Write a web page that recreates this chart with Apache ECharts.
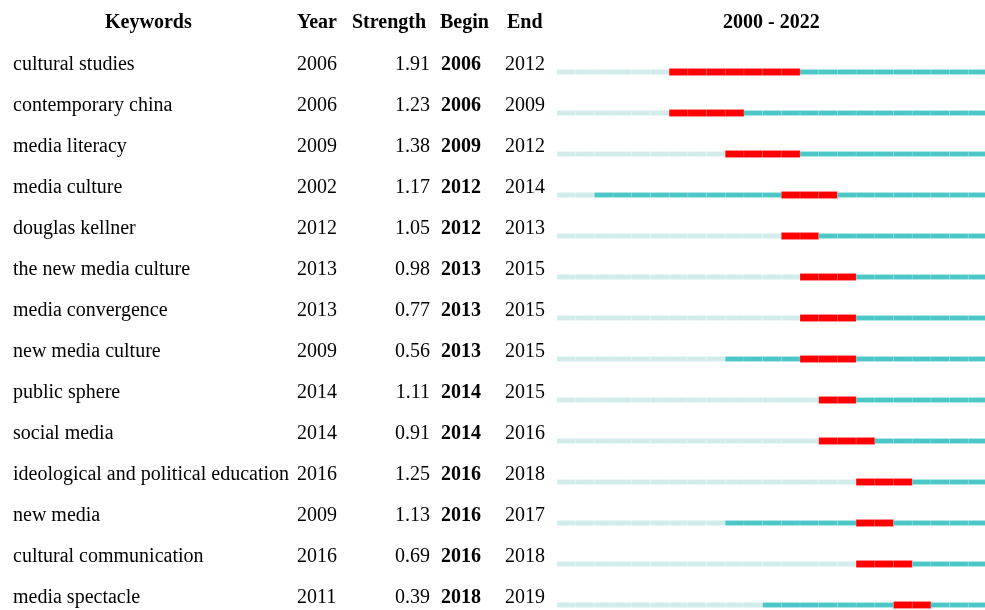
<!DOCTYPE html>
<html>
<head>
<meta charset="utf-8">
<script src="https://cdn.jsdelivr.net/npm/echarts@6/dist/echarts.min.js"></script>
<style>
  html, body { margin: 0; padding: 0; background: #fff; }
  #chart { width: 985px; height: 610px; }
</style>
</head>
<body>
<div id="chart"></div>
<script>
// Burst keyword table
const keywords = [
  "cultural studies", "contemporary china", "media literacy", "media culture",
  "douglas kellner", "the new media culture", "media convergence", "new media culture",
  "public sphere", "social media", "ideological and political education", "new media",
  "cultural communication", "media spectacle"
];
const years = [2006, 2006, 2009, 2002, 2012, 2013, 2013, 2009, 2014, 2014, 2016, 2009, 2016, 2011];
const strength = [1.91, 1.23, 1.38, 1.17, 1.05, 0.98, 0.77, 0.56, 1.11, 0.91, 1.25, 1.13, 0.69, 0.39];
const begins = [2006, 2006, 2009, 2012, 2012, 2013, 2013, 2013, 2014, 2014, 2016, 2016, 2016, 2018];
const ends = [2012, 2009, 2012, 2014, 2013, 2015, 2015, 2015, 2015, 2016, 2018, 2017, 2018, 2019];
const startYear = 2000;
const endYear = 2022;

const chartDom = document.getElementById("chart");
const myChart = echarts.init(chartDom, null, { renderer: "canvas" });

const font = "'Liberation Serif', 'Times New Roman', serif";
const rowData = keywords.map((k, i) => [i, years[i], begins[i], ends[i]]);

// one label column = one hidden category axis
function column(data, margin, align, bold) {
  return {
    type: "category",
    data: data,
    inverse: true,
    position: "left",
    offset: 0,
    axisLine: { show: false },
    axisTick: { show: false },
    splitLine: { show: false },
    axisLabel: {
      interval: 0,
      margin: margin,
      align: align,
      fontFamily: font,
      fontSize: 20,
      fontWeight: bold ? "bold" : "normal",
      color: "#000",
    },
  };
}

function renderRow(params, api) {
  const idx = api.value(0);
  const first = api.value(1);
  const b = api.value(2);
  const e = api.value(3);
  const children = [];
  for (let y = startYear; y <= endYear; y++) {
    const p0 = api.coord([y, idx]);
    const p1 = api.coord([y + 1, idx]);
    const cy = p0[1] + 7.5;
    let color, h;
    if (y >= b && y <= e) {
      color = "#ff0000"; h = 7;
    } else if (y >= first) {
      color = "#4cc6c6"; h = 5;
    } else {
      color = "#d2ecec"; h = 5;
    }
    children.push({
      type: "rect",
      shape: { x: p0[0], y: cy - h / 2, width: p1[0] - p0[0], height: h },
      style: { fill: color, stroke: "rgba(255,255,255,0.2)", lineWidth: 0.5 },
    });
  }
  return { type: "group", children: children };
}

const headerStyle = { fontFamily: font, fontSize: 20, fontWeight: "bold", fill: "#000" };

const option = {
  animation: false,
  grid: { left: 557, top: 44, width: 430, height: 574, outerBoundsMode: "none" },
  xAxis: {
    type: "value",
    min: startYear,
    max: endYear + 1,
    show: false,
  },
  yAxis: [
    column(keywords, 544, "left", false),
    column(years.map(String), 260, "left", false),
    column(strength.map((s) => s.toFixed(2)), 127, "right", false),
    column(begins.map(String), 116, "left", true),
    column(ends.map(String), 52, "left", false),
  ],
  graphic: [
    { type: "text", left: 105, top: 13, style: Object.assign({ text: "Keywords" }, headerStyle) },
    { type: "text", left: 297, top: 13, style: Object.assign({ text: "Year" }, headerStyle) },
    { type: "text", left: 352, top: 13, style: Object.assign({ text: "Strength" }, headerStyle) },
    { type: "text", left: 440, top: 13, style: Object.assign({ text: "Begin" }, headerStyle) },
    { type: "text", left: 507, top: 13, style: Object.assign({ text: "End" }, headerStyle) },
    { type: "text", left: 723, top: 13, style: Object.assign({ text: startYear + " - " + endYear }, headerStyle) },
  ],
  series: [
    {
      type: "custom",
      renderItem: renderRow,
      encode: { x: [1, 2, 3], y: 0 },
      data: rowData,
      clip: false,
    },
  ],
};

myChart.setOption(option);
</script>
</body>
</html>
